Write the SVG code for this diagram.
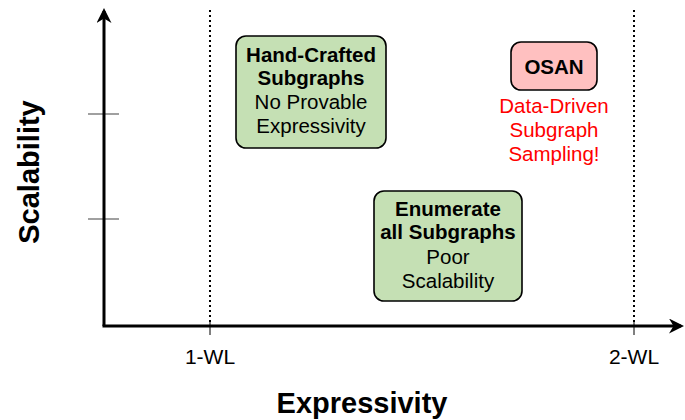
<svg xmlns="http://www.w3.org/2000/svg" width="685" height="420" viewBox="0 0 685 420">
<style>
text{font-family:"Liberation Sans",Arial,sans-serif;text-anchor:middle;fill:#000}
.b{font-weight:bold}
.box{stroke:#000;stroke-width:1.6}
.g{fill:#c5e0b4}
.p{fill:#ffc0c0}
.t{font-size:20.5px}
.red{fill:#ff0000}
.ax{stroke:#000;stroke-width:3;fill:none}
.dot{stroke:#000;stroke-width:2;stroke-dasharray:2 3;fill:none}
.tick{stroke:#808080;stroke-width:1.5}
.xt{stroke:#000;stroke-width:1}
</style>
<defs>
<marker id="ah" viewBox="0 0 10 10" refX="8" refY="5" markerWidth="5" markerHeight="5" orient="auto" markerUnits="strokeWidth">
<path d="M0,0 L10,5 L0,10 L3,5 z" fill="#000"/>
</marker>
</defs>
<g id="connectors">
<line class="dot" x1="210" y1="10" x2="210" y2="326"/>
<line class="dot" x1="634" y1="10" x2="634" y2="326"/>
<line class="tick" x1="88" y1="114" x2="119" y2="114"/>
<line class="tick" x1="88" y1="219" x2="119" y2="219"/>
<line class="xt" x1="210" y1="320" x2="210" y2="335"/>
<line class="xt" x1="634" y1="320" x2="634" y2="335"/>
<path class="ax" d="M104,326 L104,11" marker-end="url(#ah)"/>
<path class="ax" d="M102.5,326 L681,326" marker-end="url(#ah)"/>
</g>
<g id="axis-labels">
<text x="210" y="364" font-size="21">1-WL</text>
<text x="634" y="364" font-size="21">2-WL</text>
<text class="b" x="362" y="413" font-size="29">Expressivity</text>
<text class="b" x="0" y="0" font-size="29" transform="translate(39,172) rotate(-90)">Scalability</text>
</g>
<g id="handcrafted">
<rect class="box g" x="236" y="36" width="150" height="112" rx="10"/>
<text class="t b" x="311" y="62">Hand-Crafted</text>
<text class="t b" x="311" y="85">Subgraphs</text>
<text class="t" x="311" y="109">No Provable</text>
<text class="t" x="311" y="133">Expressivity</text>
</g>
<g id="osan">
<rect class="box p" x="511" y="42" width="86" height="48" rx="10"/>
<text class="t b" x="554" y="74">OSAN</text>
<text class="t red" x="554" y="113">Data-Driven</text>
<text class="t red" x="554" y="137">Subgraph</text>
<text class="t red" x="554" y="161">Sampling!</text>
</g>
<g id="enumerate">
<rect class="box g" x="374" y="191" width="148" height="110" rx="10"/>
<text class="t b" x="448" y="216">Enumerate</text>
<text class="t b" x="448" y="239">all Subgraphs</text>
<text class="t" x="448" y="264">Poor</text>
<text class="t" x="448" y="288">Scalability</text>
</g>
</svg>
